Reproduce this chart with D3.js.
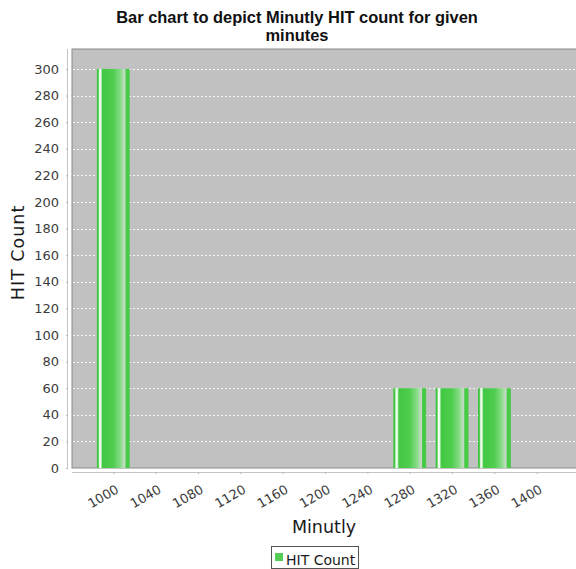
<!DOCTYPE html>
<html>
<head>
<meta charset="utf-8">
<script src="https://cdn.jsdelivr.net/npm/d3@7"></script>
<style>
  html, body { margin: 0; padding: 0; background: #ffffff; }
  svg { display: block; }
</style>
</head>
<body>
<script>
// ---- data ----
const minutes = [1000, 1280, 1320, 1360];
const hitCounts = [300, 60, 60, 60];
const barSpanMinutes = 31;            // interval width of each bar (data units)
const xTickValues = [1000, 1040, 1080, 1120, 1160, 1200, 1240, 1280, 1320, 1360, 1400];
const yTickValues = [0, 20, 40, 60, 80, 100, 120, 140, 160, 180, 200, 220, 240, 260, 280, 300];
const xDomain = [961, 1438];
const yDomain = [0, 315];
const titleLines = ["Bar chart to depict Minutly HIT count for given", "minutes"];
const xLabel = "Minutly";
const yLabel = "HIT Count";
const seriesName = "HIT Count";

// ---- layout ----
const W = 576, H = 569;
const plot = { left: 72, right: 577, top: 49, bottom: 468 };
const baseFont = "DejaVu Sans, sans-serif";

const svg = d3.select("body").append("svg").attr("width", W).attr("height", H)
  .style("font-family", baseFont);

const x = d3.scaleLinear().domain(xDomain).range([plot.left, plot.right]);
const y = d3.scaleLinear().domain(yDomain).range([plot.bottom, plot.top]);

// gradient like JFreeChart GradientBarPainter
const defs = svg.append("defs");
const grad = defs.append("linearGradient").attr("id", "barGrad")
  .attr("x1", "0").attr("x2", "1").attr("y1", "0").attr("y2", "0");
[
  [0.00, "rgb(62,198,62)"],
  [0.04, "rgb(62,198,62)"],
  [0.085, "rgb(245,255,245)"],
  [0.12, "rgb(235,252,235)"],
  [0.17, "rgb(66,200,66)"],
  [0.50, "rgb(80,205,80)"],
  [0.72, "rgb(135,220,135)"],
  [0.82, "rgb(185,222,185)"],
  [0.86, "rgb(200,212,200)"],
  [0.885, "rgb(72,204,72)"],
  [1.00, "rgb(68,202,68)"]
].forEach(([o, c]) => grad.append("stop").attr("offset", o).attr("stop-color", c));

// plot background
svg.append("rect")
  .attr("x", plot.left).attr("y", plot.top)
  .attr("width", plot.right - plot.left).attr("height", plot.bottom - plot.top)
  .attr("fill", "#c0c1c0").attr("stroke", "#8a8a8a").attr("stroke-width", 1);

// horizontal gridlines
svg.append("g").selectAll("line")
  .data(yTickValues.filter(v => v > 0))
  .join("line")
  .attr("x1", plot.left + 1).attr("x2", plot.right)
  .attr("y1", d => Math.round(y(d)) + 0.5).attr("y2", d => Math.round(y(d)) + 0.5)
  .attr("stroke", "#f6f6f6").attr("stroke-width", 1)
  .attr("stroke-dasharray", "2,2");

// bars
svg.append("g").selectAll("rect")
  .data(minutes.map((m, i) => ({ m, v: hitCounts[i] })))
  .join("rect")
  .attr("x", d => x(d.m - barSpanMinutes / 2))
  .attr("width", d => x(d.m + barSpanMinutes / 2) - x(d.m - barSpanMinutes / 2))
  .attr("y", d => y(d.v))
  .attr("height", d => y(0) - y(d.v))
  .attr("fill", "url(#barGrad)");

// y axis
const yAxisX = plot.left - 4;
const yAxis = d3.axisLeft(y).tickValues(yTickValues).tickSize(2).tickPadding(7);
const gy = svg.append("g").attr("transform", `translate(${yAxisX},0)`).call(yAxis);
gy.select(".domain").attr("stroke", "#c4c4c4").attr("d", `M-0.5,${plot.top}V${plot.bottom}`);
gy.selectAll(".tick line").attr("stroke", "#b8b8b8");
gy.selectAll(".tick text")
  .attr("font-family", baseFont)
  .attr("font-size", 13).attr("fill", "#3c3c3c");

// x axis
const xAxisY = plot.bottom + 4;
const xAxis = d3.axisBottom(x).tickValues(xTickValues).tickSize(2).tickFormat(d3.format("d"));
const gx = svg.append("g").attr("transform", `translate(0,${xAxisY})`).call(xAxis);
gx.select(".domain").attr("stroke", "#c4c4c4").attr("d", `M${plot.left},0.5H${plot.right}`);
gx.selectAll(".tick line").attr("stroke", "#b8b8b8");
gx.selectAll(".tick text")
  .attr("font-family", baseFont)
  .attr("font-size", 13).attr("fill", "#3c3c3c")
  .attr("text-anchor", "end")
  .attr("dy", null)
  .attr("y", null)
  .attr("transform", "translate(6,20) rotate(-30)");

// axis labels
svg.append("text")
  .attr("transform", `translate(24,${(plot.top + plot.bottom) / 2 - 6}) rotate(-90)`)
  .attr("text-anchor", "middle")
  .attr("font-size", 17.5).attr("letter-spacing", 1).attr("fill", "#1a1a1a")
  .text(yLabel);

svg.append("text")
  .attr("x", 324).attr("y", 533)
  .attr("text-anchor", "middle")
  .attr("font-size", 17.5).attr("fill", "#1a1a1a")
  .text(xLabel);

// title
const titleCx = 297;
const tg = svg.append("g");
tg.selectAll("text").data(titleLines).join("text")
  .attr("x", titleCx)
  .attr("y", (d, i) => 23 + i * 18)
  .attr("text-anchor", "middle")
  .style("font-family", "'Liberation Sans', Arial, sans-serif")
  .attr("font-weight", "bold")
  .attr("font-size", 15)
  .attr("fill", "#111")
  .text(d => d);
// fit first line width to reference (~362px)
const t0 = tg.select("text").node();
const len0 = t0.getComputedTextLength();
const fs = 15 * 362 / len0;
tg.selectAll("text").attr("font-size", fs);

// legend
const lg = svg.append("g");
lg.append("rect").attr("x", 271.5).attr("y", 546.5).attr("width", 87).attr("height", 22)
  .attr("fill", "#fff").attr("stroke", "#555");
lg.append("rect").attr("x", 275).attr("y", 553).attr("width", 8).attr("height", 8)
  .attr("fill", "#55cc55");
lg.append("text").attr("x", 286).attr("y", 564.5)
  .attr("font-size", 14).attr("fill", "#1a1a1a").text(seriesName);
</script>
</body>
</html>
